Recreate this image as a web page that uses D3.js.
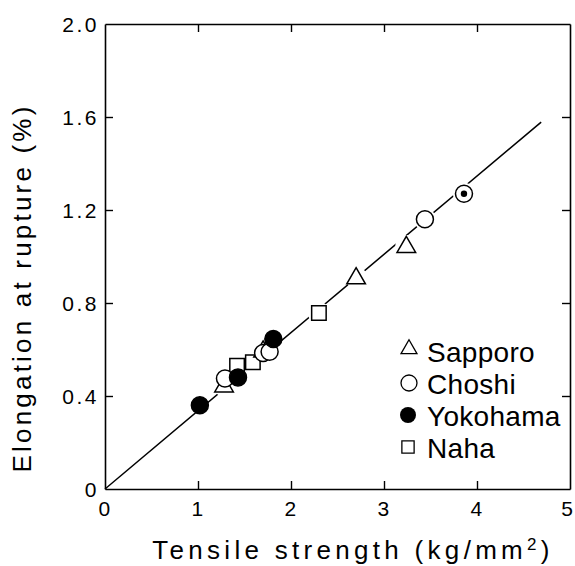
<!DOCTYPE html>
<html>
<head>
<meta charset="utf-8">
<script src="https://cdn.jsdelivr.net/npm/d3@7"></script>
<style>
  html, body { margin: 0; padding: 0; background: #fff; }
  svg { display: block; }
  text { font-family: "Liberation Sans", Arial, sans-serif; fill: #000; }
</style>
</head>
<body>
<svg id="chart" width="575" height="566"></svg>
<script>
// Tensile strength (kg/mm²) vs. elongation at rupture (%) by exposure site
const sapporo  = [[1.28, 0.445], [1.70, 0.595], [2.70, 0.91], [3.24, 1.045]];
const choshi   = [[1.29, 0.475], [1.70, 0.585], [1.77, 0.59], [3.44, 1.16]];
const yokohama = [[1.02, 0.36], [1.43, 0.48], [1.81, 0.645]];
const naha     = [[1.42, 0.53], [1.59, 0.545], [2.30, 0.757]];
const marked   = [[3.86, 1.27]];          // circled-dot sample
const fitLine  = [[0, 0], [4.69, 1.578]]; // regression through origin

const xTicks = [0, 1, 2, 3, 4, 5];
const yTicks = [0, 0.4, 0.8, 1.2, 1.6, 2.0];
const legendItems = ["Sapporo", "Choshi", "Yokohama", "Naha"];

const svg = d3.select("#chart");
const x = d3.scaleLinear().domain([0, 5]).range([105, 570]);
const y = d3.scaleLinear().domain([0, 2]).range([489, 24]);

const ink = "#000";
const tickFont = "21px";

// frame and ticks
const axBottom = svg.append("g").attr("transform", `translate(0,${y(0)})`)
  .call(d3.axisBottom(x).tickValues(xTicks).tickSizeInner(-8).tickSizeOuter(0)
    .tickPadding(12).tickFormat(d3.format("d")));
const axTop = svg.append("g").attr("transform", `translate(0,${y(2)})`)
  .call(d3.axisTop(x).tickValues(xTicks.slice(1, -1)).tickSizeInner(-8).tickSizeOuter(0)
    .tickFormat(""));
const axLeft = svg.append("g").attr("transform", `translate(${x(0)},0)`)
  .call(d3.axisLeft(y).tickValues(yTicks).tickSizeInner(-8).tickSizeOuter(0)
    .tickPadding(6).tickFormat(d => d === 0 ? "0" : d.toFixed(1)));
const axRight = svg.append("g").attr("transform", `translate(${x(5)},0)`)
  .call(d3.axisRight(y).tickValues(yTicks.slice(1, -1)).tickSizeInner(-8).tickSizeOuter(0)
    .tickFormat(""));

[axBottom, axTop, axLeft, axRight].forEach(g => {
  g.select(".domain").attr("stroke", ink).attr("stroke-width", 1.6);
  g.selectAll(".tick line").attr("stroke", ink).attr("stroke-width", 1.4);
  g.selectAll("text").attr("font-size", tickFont)
    .attr("font-family", "'Liberation Sans', Arial, sans-serif")
    .attr("fill", ink).style("letter-spacing", "2.5px");
});
// corner ticks coincide with the frame
axBottom.selectAll(".tick").filter(d => d === 0 || d === 5).select("line").remove();
axLeft.selectAll(".tick").filter(d => d === 0 || d === 2).select("line").remove();
axLeft.selectAll(".tick text").attr("dy", "0.36em");
// keep the last x label inside the page edge
axBottom.selectAll(".tick").filter(d => d === 5).select("text")
  .attr("text-anchor", "end").attr("dx", "5");

// fitted line
svg.append("path")
  .datum(fitLine)
  .attr("d", d3.line().x(d => x(d[0])).y(d => y(d[1])))
  .attr("fill", "none").attr("stroke", ink).attr("stroke-width", 1.5);

// marker shapes
const tri = d3.symbol().type(d3.symbolTriangle).size(150);
const sq = d3.symbol().type(d3.symbolSquare).size(210);

function drawTriangles(g, data) {
  g.selectAll(null).data(data).join("path")
    .attr("d", tri).attr("transform", d => `translate(${x(d[0])},${y(d[1]) + 1})`)
    .attr("fill", "#fff").attr("stroke", ink).attr("stroke-width", 1.5);
}
function drawCircles(g, data, filled) {
  g.selectAll(null).data(data).join("circle")
    .attr("cx", d => x(d[0])).attr("cy", d => y(d[1])).attr("r", 8.5)
    .attr("fill", filled ? ink : "#fff").attr("stroke", ink).attr("stroke-width", 1.5);
}
function drawSquares(g, data) {
  g.selectAll(null).data(data).join("path")
    .attr("d", sq).attr("transform", d => `translate(${x(d[0])},${y(d[1])})`)
    .attr("fill", "#fff").attr("stroke", ink).attr("stroke-width", 1.5);
}

// white halos break the fitted line around each marker
const halo = svg.append("g");
halo.selectAll(null).data([...sapporo, ...choshi, ...naha, ...marked]).join("circle")
  .attr("cx", d => x(d[0])).attr("cy", d => y(d[1])).attr("r", 11).attr("fill", "#fff");

const marks = svg.append("g");
drawSquares(marks.append("g"), naha);
drawTriangles(marks.append("g"), sapporo);
drawCircles(marks.append("g"), choshi, false);
drawCircles(marks.append("g"), yokohama, true);
drawCircles(marks.append("g"), marked, false);
marks.append("g").selectAll(null).data(marked).join("circle")
  .attr("cx", d => x(d[0])).attr("cy", d => y(d[1])).attr("r", 3.2).attr("fill", ink);

// legend
const legend = svg.append("g");
const legendY = d3.scalePoint().domain(legendItems).range([352, 448]);
const lx = 409;
legendItems.forEach(name => {
  const cy = legendY(name);
  const g = legend.append("g");
  if (name === "Sapporo") {
    g.append("path").attr("d", d3.symbol().type(d3.symbolTriangle).size(110))
      .attr("transform", `translate(${lx},${cy - 3})`)
      .attr("fill", "#fff").attr("stroke", ink).attr("stroke-width", 1.3);
  } else if (name === "Choshi") {
    g.append("circle").attr("cx", lx).attr("cy", cy - 1).attr("r", 8)
      .attr("fill", "#fff").attr("stroke", ink).attr("stroke-width", 1.3);
  } else if (name === "Yokohama") {
    g.append("circle").attr("cx", lx - 1).attr("cy", cy - 1).attr("r", 8).attr("fill", ink);
  } else {
    g.append("path").attr("d", d3.symbol().type(d3.symbolSquare).size(150))
      .attr("transform", `translate(${lx - 1},${cy - 1})`)
      .attr("fill", "#fff").attr("stroke", ink).attr("stroke-width", 1.3);
  }
  g.append("text").attr("x", 427).attr("y", cy + 10)
    .attr("font-size", "28px").style("letter-spacing", "0.3px").text(name);
});

// axis titles
const xTitle = svg.append("text")
  .attr("x", 353).attr("y", 559).attr("text-anchor", "middle")
  .attr("font-size", "26px").style("letter-spacing", "4.3px");
xTitle.append("tspan").text("Tensile strength (kg/mm");
xTitle.append("tspan").attr("dy", "-9").attr("font-size", "17px").text("2");
xTitle.append("tspan").attr("dy", "9").text(")");

svg.append("text")
  .attr("transform", `translate(31,288) rotate(-90)`)
  .attr("text-anchor", "middle")
  .attr("font-size", "26px").style("letter-spacing", "3.2px")
  .text("Elongation at rupture (%)");
</script>
</body>
</html>
